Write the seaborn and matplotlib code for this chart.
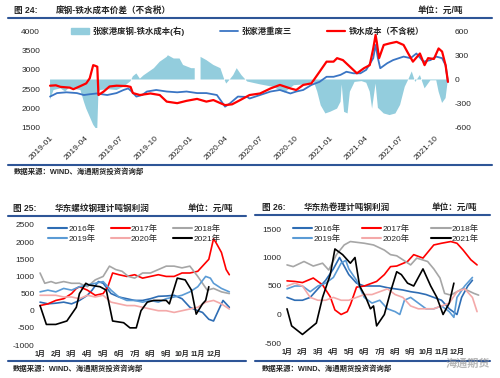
import matplotlib
matplotlib.use('Agg')
import numpy as np
import pandas as pd
import matplotlib.pyplot as plt
from matplotlib.lines import Line2D
from matplotlib.patches import Patch
import seaborn as sns

# ---------- 图24: months since 2019-01 ----------
quarter_labels = ['2019-01', '2019-04', '2019-07', '2019-10', '2020-01', '2020-04',
                  '2020-07', '2020-10', '2021-01', '2021-04', '2021-07', '2021-10']

cost_m = [0, 0.5, 0.9, 1.7, 2.0, 2.6, 3.1, 3.4, 3.7, 3.9, 4.05, 4.15, 4.6, 5.1, 5.7, 6.6, 6.9,
          7.1, 7.7, 8.6, 9.4, 10.0, 10.9, 11.7, 12.6, 13.4, 14.0, 14.6, 15.0, 15.6, 16.3, 17.1,
          18.0, 18.9, 19.7, 20.6, 21.1, 21.7, 22.4, 23.1, 23.7, 24.3, 24.6, 25.1, 25.7, 26.3,
          26.9, 27.4, 27.7, 27.9, 28.0, 28.2, 28.6, 29.1, 29.7, 30.3, 30.7, 31.1, 31.7, 32.1,
          32.4, 32.9, 33.3, 33.6, 33.9, 34.1]
cost_v = [2590, 2600, 2560, 2540, 2500, 2580, 2650, 2780, 3120, 3100, 3080, 2350, 2440, 2570,
          2590, 2580, 2560, 2400, 2350, 2390, 2350, 2180, 2140, 2200, 2250, 2180, 2220, 2140,
          2090, 2110, 2220, 2350, 2390, 2520, 2610, 2520, 2480, 2610, 2650, 2950, 3210, 3210,
          3300, 3250, 3080, 2910, 3040, 3120, 3550, 3900, 3720, 3300, 3640, 3680, 3720, 3640,
          3420, 3210, 3420, 3120, 3300, 3280, 3550, 3470, 3120, 2690]

scrap_m = [0, 0.6, 1.4, 2.3, 2.9, 3.4, 4.0, 4.9, 5.7, 6.3, 6.7, 7.0, 7.4, 7.9, 8.3, 9.1, 10.0,
           10.9, 11.7, 12.6, 13.4, 14.3, 14.7, 15.0, 15.4, 16.1, 16.9, 17.1, 18.0, 18.9, 19.7,
           20.6, 21.1, 21.7, 22.4, 23.1, 23.7, 24.3, 24.9, 25.4, 26.0, 26.6, 27.1, 27.7, 27.9,
           28.1, 28.3, 28.9, 29.4, 30.3, 30.9, 31.4, 32.0, 32.6, 33.1, 33.6, 33.9, 34.1]
scrap_v = [2310, 2400, 2420, 2400, 2350, 2370, 2390, 2350, 2400, 2480, 2520, 2440, 2310, 2350,
           2440, 2480, 2440, 2420, 2440, 2400, 2400, 2350, 2180, 2050, 2130, 2310, 2300, 2260,
           2350, 2440, 2480, 2390, 2440, 2480, 2610, 2690, 2820, 2820, 2870, 2950, 2910, 2910,
           3000, 3300, 3640, 3300, 3040, 3170, 3250, 3340, 3300, 3420, 3210, 3250, 3340, 3300,
           3120, 2690]

spread_m = [0, 0.3, 0.9, 1.3, 1.7, 2.2, 2.6, 2.9, 3.1, 3.4, 3.7, 3.9, 4.05, 4.15, 4.3, 5.0,
            5.7, 6.3, 6.9, 7.1, 7.4, 7.7, 8.0, 8.9, 9.4, 10.0, 10.1, 10.6, 11.1, 11.4, 12.1,
            12.4, 12.6, 12.9, 13.4, 14.0, 14.6, 14.9, 15.1, 15.4, 15.7, 16.0, 16.4, 16.9, 18.0,
            19.1, 20.1, 20.9, 21.9, 22.6, 22.9, 23.2, 23.6, 24.0, 24.6, 24.9, 25.0, 25.2, 25.5,
            25.7, 26.1, 26.7, 27.1, 27.4, 27.6, 27.9, 28.1, 28.6, 29.1, 29.6, 30.0, 30.4, 30.7,
            31.0, 31.3, 31.7, 32.1, 32.6, 33.1, 33.3, 33.6, 33.9, 34.1]
spread_v = [-250, -130, -110, -150, -90, -120, -130, -275, -360, -460, -560, -600, -600, -150,
            -130, -120, -130, -90, -20, 40, 75, 10, 50, 140, 220, 280, 300, 260, 260, 180, 140,
            140, np.nan, 280, 240, 180, 140, 15, -50, 0, 55, 140, 55, -25, -60, -90, -160, -70,
            -60, -25, -150, -320, -420, -400, -360, -275, -60, -400, -420, -150, -30, -20, -40,
            -150, -360, -50, -350, -420, -440, -420, -315, -90, 0, 100, -30, 55, -110, -10, -10,
            -150, -290, -230, 0]

# ---------- 图25: rebar profit, months since Jan 1 ----------
month_labels = ['1月', '2月', '3月', '4月', '5月', '6月', '7月', '8月', '9月', '10月', '11月', '12月']
years = ['2016年', '2017年', '2018年', '2019年', '2020年', '2021年']

rb16_m = [0, 0.5, 1.0, 1.5, 2.0, 2.5, 3.0, 3.3, 3.7, 4.0, 4.5, 5.0, 5.5, 6.0, 6.5, 7.0, 7.5,
          8.0, 8.5, 9.0, 9.5, 10.0, 10.3, 10.7, 11.0, 11.3, 11.6, 12.0]
rb16_v = [250, 200, 220, 250, 200, 300, 450, 600, 850, 800, 500, 400, 350, 300, 300, 350, 420,
          430, 450, 350, 100, 0, -50, -250, -300, 0, 300, 100]
rb17_m = [0, 0.5, 1.0, 1.5, 2.0, 2.3, 2.5, 3.0, 3.5, 4.0, 4.3, 4.6, 5.0, 5.5, 6.0, 6.5, 7.0,
          7.5, 8.0, 8.5, 9.0, 9.5, 10.0, 10.3, 10.7, 11.0, 11.2, 11.5, 11.8, 12.0]
rb17_v = [150, 200, 300, 350, 500, 650, 700, 600, 450, 500, 700, 1100, 1050, 1000, 1050, 950,
          1000, 1050, 1000, 1000, 1100, 1100, 1150, 1300, 1500, 2100, 1950, 1700, 1200, 1050]
rb18_m = [0, 0.3, 0.7, 1.0, 1.5, 2.0, 2.5, 3.0, 3.5, 4.0, 4.4, 4.8, 5.2, 5.6, 6.0, 6.5, 7.0,
          7.5, 8.0, 8.5, 9.0, 9.5, 10.0, 10.3, 10.6, 11.0, 11.5, 12.0]
rb18_v = [1100, 800, 850, 800, 850, 800, 800, 700, 900, 1000, 1300, 1200, 1150, 1000, 950, 1100,
          1100, 1200, 1300, 1300, 1250, 1300, 1000, 800, 600, 650, 550, 500]
rb19_m = [0, 0.5, 1.0, 1.5, 2.0, 2.5, 3.0, 3.5, 4.0, 4.5, 5.0, 5.5, 6.0, 6.5, 7.0, 7.5, 8.0,
          8.5, 9.0, 9.5, 10.0, 10.5, 10.8, 11.0, 11.5, 12.0]
rb19_v = [550, 600, 550, 650, 600, 700, 750, 800, 850, 600, 400, 300, 300, 250, 300, 250, 350,
          400, 450, 550, 700, 1000, 950, 800, 650, 550]
rb20_m = [0, 0.5, 1.0, 1.5, 2.0, 2.5, 3.0, 3.5, 4.0, 4.5, 5.0, 5.5, 6.0, 6.5, 7.0, 7.5, 8.0,
          8.5, 9.0, 9.5, 10.0, 10.5, 11.0, 11.5, 12.0]
rb20_v = [450, 450, 450, 400, 400, 350, 450, 400, 450, 250, 200, 150, 150, 100, 50, 0, 0, -50,
          0, 50, 100, 250, 300, 200, 50]
rb21_m = [0, 0.4, 1.0, 1.7, 2.3, 2.5, 2.9, 3.1, 3.8, 4.2, 4.6, 5.3, 5.7, 6.1, 6.4, 6.8, 7.2,
          8.0, 8.2, 8.7, 9.2, 9.6, 9.9, 10.3, 10.5, 10.7]
rb21_v = [150, -400, -400, -300, 100, 500, 800, 750, 700, 600, -300, -350, -500, -500, 0, 250,
          300, 300, 200, 950, 900, 600, -100, 200, 300, 700]

# ---------- 图26: hot-rolled coil profit ----------
hc16_m = [0, 0.5, 1.0, 1.5, 2.0, 2.5, 3.0, 3.4, 3.7, 4.0, 4.5, 5.0, 5.5, 6.0, 6.5, 7.0, 7.5,
          8.0, 8.5, 9.0, 9.5, 10.0, 10.5, 11.0, 11.3, 11.7, 12.0]
hc16_v = [300, 250, 250, 300, 450, 600, 800, 1000, 850, 700, 550, 500, 500, 500, 470, 450, 430,
          400, 380, 350, 300, 250, 100, 0, 300, 500, 600]
hc17_m = [0, 0.5, 1.0, 1.7, 2.3, 2.8, 3.1, 3.5, 3.9, 4.1, 4.5, 5.0, 5.8, 6.3, 6.7, 7.1, 7.8,
          8.2, 8.8, 9.5, 10.0, 10.6, 11.0, 11.4, 11.9, 12.3]
hc17_v = [590, 580, 560, 640, 520, 310, 80, 0, 50, 170, 480, 500, 580, 700, 840, 850, 930, 1050,
          990, 1220, 1250, 1280, 1250, 1130, 960, 870]
hc18_m = [0, 0.4, 1.1, 1.7, 2.3, 2.7, 3.2, 3.7, 4.1, 5.0, 5.6, 6.3, 6.7, 7.1, 7.5, 8.0, 8.4,
          9.1, 9.5, 9.9, 10.2, 10.6, 11.4, 12.1, 12.4]
hc18_v = [870, 840, 930, 850, 900, 780, 1050, 1220, 1280, 1250, 1220, 1130, 1050, 1030, 960,
          870, 990, 930, 800, 640, 370, 340, 460, 370, 340]
hc19_m = [0, 0.5, 1.0, 1.5, 2.0, 2.5, 3.0, 3.5, 3.8, 4.0, 4.5, 5.0, 5.5, 6.0, 6.5, 7.0, 7.3,
          7.6, 8.0, 8.5, 9.0, 9.5, 10.0, 10.5, 10.8, 11.0, 11.5, 12.0]
hc19_v = [450, 500, 500, 400, 500, 550, 650, 900, 950, 800, 600, 300, 200, 250, 100, 50, 0, 250,
          300, 200, 100, 100, 150, 50, -50, 300, 500, 650]
hc20_m = [0, 0.5, 1.0, 1.5, 2.0, 2.5, 3.0, 3.5, 4.0, 4.5, 5.0, 5.5, 6.0, 6.5, 7.0, 7.5, 8.0,
          8.5, 9.0, 9.5, 10.0, 10.5, 11.0, 11.5, 12.0, 12.3]
hc20_v = [500, 550, 500, 300, 250, 250, 300, 250, 250, 300, 350, 350, 400, 450, 350, 300, 150,
          100, 100, 100, 150, 200, 400, 450, 300, 50]
hc21_m = [0, 0.3, 1.0, 1.9, 2.3, 2.8, 3.1, 3.6, 4.1, 4.4, 4.7, 5.1, 5.4, 5.6, 5.8, 6.3, 6.7,
          7.1, 7.4, 7.8, 8.2, 8.8, 9.3, 9.7, 10.1, 10.5, 10.8]
hc21_v = [100, -200, -350, -150, 300, 700, 1150, 1050, 900, 1000, 500, 300, 100, 150, -200, 0,
          400, 750, 700, 550, 500, 800, 500, 300, 0, 200, 550]

year_colors = ['#2E6DB4', '#FF0000', '#A6A6A6', '#5B9BD5', '#F4A9A9', '#000000']
spread_color = '#93CDDD'
scrap_color = '#3A75C4'
cost_color = '#FF0000'
rule_color = '#2E5597'

sns.set_style('white')
plt.rcParams['font.family'] = ['Liberation Sans', 'Noto Sans CJK SC']
plt.rcParams['axes.unicode_minus'] = False

W, H = 500, 378
fig = plt.figure(figsize=(5, 3.78), dpi=100)


def box(l, t, r, b):
    return [l / W, 1 - b / H, (r - l) / W, (b - t) / H]


def fx(x):
    return x / W


def fy(y):
    return 1 - y / H


def hline(y, x0, x1):
    fig.add_artist(Line2D([fx(x0), fx(x1)], [fy(y), fy(y)], color=rule_color, lw=1.5))


def header(x, y, fig_no, title, unit_right, src_y):
    fig.text(fx(x), fy(y), fig_no, fontsize=6.2, weight='bold', va='center')
    fig.text(fx(x + 42), fy(y), title, fontsize=6.2, weight='bold', va='center')
    fig.text(fx(unit_right), fy(y), '单位：元/吨', fontsize=6.2, weight='bold',
             va='center', ha='right')
    fig.text(fx(x), fy(src_y), '数据来源：WIND、海通期货投资咨询部', fontsize=5.3,
             weight='bold', va='center')


def strip(ax):
    for s in ax.spines.values():
        s.set_visible(False)
    ax.set_xlabel('')
    ax.set_ylabel('')


# ---------------- chart 1 ----------------
header(14, 10, '图 24:', '废钢-铁水成本价差（不含税）', 463, 172)
hline(17.5, 8, 492)
hline(165, 8, 492)

ax_l = fig.add_axes(box(47, 31, 452, 128))
ax_r = ax_l.twinx()
ax_l.set_zorder(ax_r.get_zorder() + 1)
ax_l.patch.set_visible(False)

ax_r.fill_between(spread_m, spread_v, 0, color=spread_color, lw=0)
sns.lineplot(x=scrap_m, y=scrap_v, ax=ax_l, color=scrap_color, lw=1.3)
sns.lineplot(x=cost_m, y=cost_v, ax=ax_l, color=cost_color, lw=1.6)

ax_l.set_xlim(-0.26, 34.45)
ax_l.set_ylim(1500, 4000)
ax_r.set_ylim(-600, 600)
ax_l.set_yticks(range(1500, 4001, 500))
ax_r.set_yticks(range(-600, 601, 300))
ax_l.set_xticks(range(0, 34, 3))
ax_l.set_xticklabels(quarter_labels, rotation=45, ha='right', va='top',
                     rotation_mode='anchor')
ax_l.tick_params(axis='y', length=0, labelsize=6, pad=5)
ax_l.tick_params(axis='x', length=0, labelsize=6, pad=5)
ax_r.tick_params(axis='y', length=0, labelsize=6, pad=2)
strip(ax_l)
strip(ax_r)

h1 = [Patch(color=spread_color), Line2D([], [], color=scrap_color, lw=1.3),
      Line2D([], [], color=cost_color, lw=1.6)]
l1 = ['张家港废钢-铁水成本(右)', '张家港重废三', '铁水成本（不含税）']
fig.legend(h1, l1, loc='center left', bbox_to_anchor=(fx(71), fy(31)), ncol=3,
           frameon=False, prop={'size': 6, 'weight': 'bold'}, handlelength=2.2,
           handletextpad=0.4, columnspacing=4.2, borderpad=0, borderaxespad=0)


# ---------------- charts 2 & 3 ----------------
def year_frame(ms, vs):
    parts = []
    for yr, m, v in zip(years, ms, vs):
        parts.append(pd.DataFrame({'month': m, 'profit': v, 'year': yr}))
    return pd.concat(parts, ignore_index=True)


def profit_panel(df, rect, xlim, ylim, ystep, legend_x, colspace):
    ax = fig.add_axes(rect)
    sns.lineplot(data=df, x='month', y='profit', hue='year', hue_order=years,
                 palette=dict(zip(years, year_colors)), estimator=None, sort=False,
                 lw=1.2, legend=False, ax=ax)
    ax.set_xlim(*xlim)
    ax.set_ylim(*ylim)
    ax.set_yticks(range(ylim[0], ylim[1] + 1, ystep))
    ax.set_xticks(range(12))
    ax.set_xticklabels(month_labels, weight='bold')
    ax.tick_params(axis='y', length=0, labelsize=6, pad=2.5)
    ax.tick_params(axis='x', length=0, labelsize=5, pad=4)
    strip(ax)
    order = [0, 3, 1, 4, 2, 5]
    hs = [Line2D([], [], color=year_colors[i], lw=1.5) for i in order]
    ls = [years[i] for i in order]
    fig.legend(hs, ls, loc='upper left', bbox_to_anchor=(fx(legend_x), fy(225)), ncol=3,
               frameon=False, fontsize=6, handlelength=2.3, handletextpad=0.15,
               columnspacing=colspace, labelspacing=0.2, borderpad=0, borderaxespad=0)
    return ax


df_rb = year_frame([rb16_m, rb17_m, rb18_m, rb19_m, rb20_m, rb21_m],
                   [rb16_v, rb17_v, rb18_v, rb19_v, rb20_v, rb21_v])
df_hc = year_frame([hc16_m, hc17_m, hc18_m, hc19_m, hc20_m, hc21_m],
                   [hc16_v, hc17_v, hc18_v, hc19_v, hc20_v, hc21_v])

header(13, 208, '图 25:', '华东螺纹钢理计吨钢利润', 233, 369)
hline(216, 8, 246)
hline(361, 8, 246)
profit_panel(df_rb, box(38, 225, 232, 345), (-0.13, 12.17), (-1000, 2500), 500, 48, 1.8)

header(262, 207, '图 26:', '华东热卷理计吨钢利润', 477, 369)
hline(215, 255, 490)
hline(361, 255, 490)
profit_panel(df_hc, box(285, 229, 482, 343), (-0.13, 12.62), (-500, 1500), 500, 293, 2.6)

fig.text(fx(468), fy(364), '海通期货', fontsize=8, weight='bold', color='#9A9A9A',
         alpha=0.7, ha='center', va='center')

fig.savefig('out.png', dpi=100)
